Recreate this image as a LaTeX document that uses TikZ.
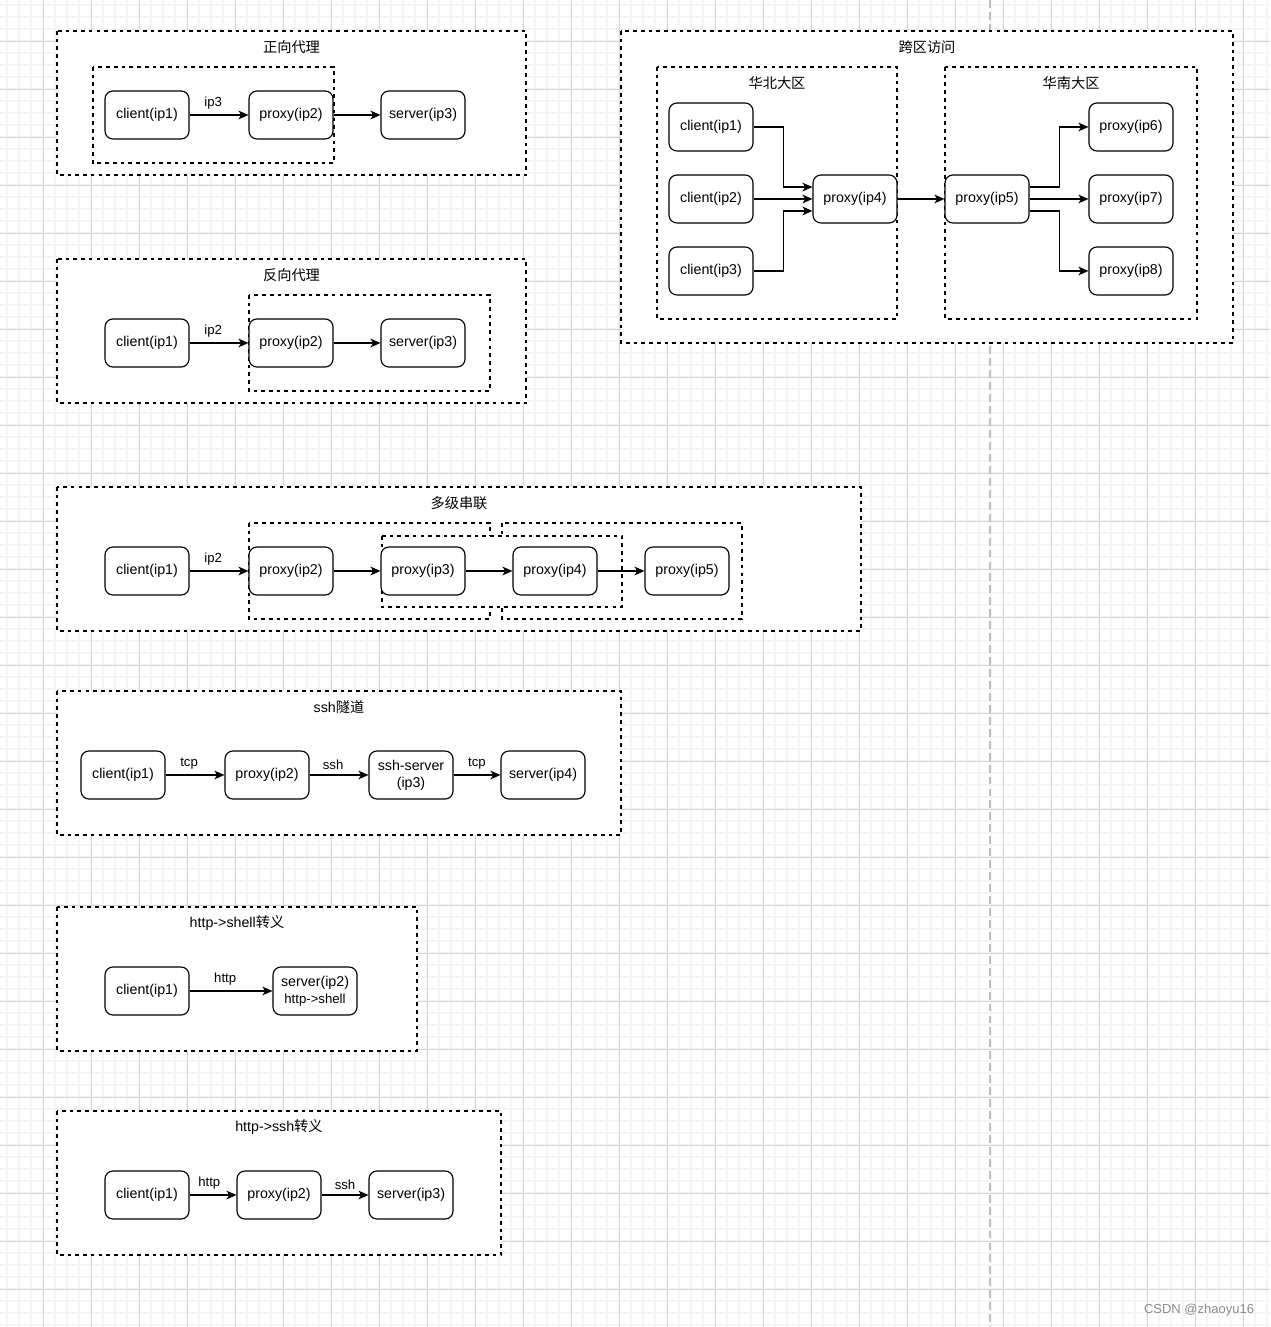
\documentclass[tikz,border=0pt]{standalone}
\usepackage{fontspec}
\setmainfont{Liberation Sans}
\newfontfamily\cjk{Noto Sans CJK SC}
\usetikzlibrary{arrows.meta, positioning}

\begin{document}
\begin{tikzpicture}[
  x=0.02cm, y=-0.02cm,
  box/.style={rectangle, draw=black, rounded corners=4.5pt, line width=0.66pt,
              minimum width=1.68cm, minimum height=0.96cm, fill=white,
              inner sep=1pt, align=center, font=\fontsize{8.1}{9.6}\selectfont},
  panel/.style={draw=black, fill=white, line width=0.6pt,
                dash pattern=on 2.1pt off 2.3pt},
  title/.style={font=\fontsize{8.1}{9.6}\selectfont},
  arrow/.style={-{Stealth[length=5.7pt, width=5pt, inset=1.6pt]}, line width=0.66pt},
  lbl/.style={above=-0.6pt, font=\fontsize{7.5}{9}\selectfont},
  gridminor/.style={draw=black!4, line width=0.7pt},
  gridmajor/.style={draw=black!17, line width=0.55pt}
]
\useasboundingbox (0,0) rectangle (1270,1327);
\fill[white] (0,0) rectangle (1270,1327);
\foreach \gx in {7,19,...,1267} \draw[gridminor] (\gx,0) -- (\gx,1327);
\foreach \gy in {5,17,...,1325} \draw[gridminor] (0,\gy) -- (1270,\gy);
\foreach \gx in {43,91,...,1267} \draw[gridmajor] (\gx,0) -- (\gx,1327);
\foreach \gy in {41,89,...,1325} \draw[gridmajor] (0,\gy) -- (1270,\gy);
\draw[black!25, line width=1.1pt, dash pattern=on 4.5pt off 2.3pt] (990,0) -- (990,1327);

% 正向代理
\draw[panel] (57,31) rectangle (526,175);
\node[title] (t1) at (291.5,47) {\cjk 正向代理};
\draw[panel] (93,67) rectangle (334,163);
\node[box] (fc) at (147,115) {client(ip1)};
\node[box] (fp) at (291,115) {proxy(ip2)};
\node[box] (fs) at (423,115) {server(ip3)};
\draw[arrow] (fc) -- node[lbl, pos=0.4] {ip3} (fp);
\draw[arrow] (fp) -- (fs);

% 反向代理
\draw[panel] (57,259) rectangle (526,403);
\node[title] (t2) at (291.5,275) {\cjk 反向代理};
\draw[panel] (249,295) rectangle (490,391);
\node[box] (rc) at (147,343) {client(ip1)};
\node[box] (rp) at (291,343) {proxy(ip2)};
\node[box] (rs) at (423,343) {server(ip3)};
\draw[arrow] (rc) -- node[lbl, pos=0.4] {ip2} (rp);
\draw[arrow] (rp) -- (rs);

% 多级串联
\draw[panel] (57,487) rectangle (861,631);
\node[title] (t3) at (459,503) {\cjk 多级串联};
\draw[panel] (249,523) rectangle (490,619);
\draw[panel] (502,523) rectangle (742,619);
\draw[panel] (382,536) rectangle (622,607);
\node[box] (mc) at (147,571) {client(ip1)};
\node[box] (m2) at (291,571) {proxy(ip2)};
\node[box] (m3) at (423,571) {proxy(ip3)};
\node[box] (m4) at (555,571) {proxy(ip4)};
\node[box] (m5) at (687,571) {proxy(ip5)};
\draw[arrow] (mc) -- node[lbl, pos=0.4] {ip2} (m2);
\draw[arrow] (m2) -- (m3);
\draw[arrow] (m3) -- (m4);
\draw[arrow] (m4) -- (m5);

% ssh隧道
\draw[panel] (57,691) rectangle (621,835);
\node[title] (t4) at (339,707) {ssh{\cjk 隧道}};
\node[box] (sc) at (123,775) {client(ip1)};
\node[box] (sp) at (267,775) {proxy(ip2)};
\node[box] (ss) at (411,775) {ssh-server\\(ip3)};
\node[box] (sv) at (543,775) {server(ip4)};
\draw[arrow] (sc) -- node[lbl, pos=0.4] {tcp} (sp);
\draw[arrow] (sp) -- node[lbl, pos=0.4] {ssh} (ss);
\draw[arrow] (ss) -- node[lbl, pos=0.5] {tcp} (sv);

% http->shell转义
\draw[panel] (57,907) rectangle (417,1051);
\node[title] (t5) at (237,923) {http->shell{\cjk 转义}};
\node[box] (hc) at (147,991) {client(ip1)};
\node[box] (hv) at (315,991) {server(ip2)\\\fontsize{7.5}{9}\selectfont http->shell};
\draw[arrow] (hc) -- node[lbl, pos=0.43] {http} (hv);

% http->ssh转义
\draw[panel] (57,1111) rectangle (501,1255);
\node[title] (t6) at (279,1127) {http->ssh{\cjk 转义}};
\node[box] (tc) at (147,1195) {client(ip1)};
\node[box] (tp) at (279,1195) {proxy(ip2)};
\node[box] (ts) at (411,1195) {server(ip3)};
\draw[arrow] (tc) -- node[lbl, pos=0.42] {http} (tp);
\draw[arrow] (tp) -- node[lbl, pos=0.5] {ssh} (ts);

% 跨区访问
\draw[panel] (621,31) rectangle (1233,343);
\node[title] (t7) at (927,47) {\cjk 跨区访问};
\draw[panel] (657,67) rectangle (897,319);
\node[title] (t8) at (777,83) {\cjk 华北大区};
\draw[panel] (945,67) rectangle (1197,319);
\node[title] (t9) at (1071,83) {\cjk 华南大区};
\node[box] (kc1) at (711,127) {client(ip1)};
\node[box] (kc2) at (711,199) {client(ip2)};
\node[box] (kc3) at (711,271) {client(ip3)};
\node[box] (kp4) at (855,199) {proxy(ip4)};
\node[box] (kp5) at (987,199) {proxy(ip5)};
\node[box] (kp6) at (1131,127) {proxy(ip6)};
\node[box] (kp7) at (1131,199) {proxy(ip7)};
\node[box] (kp8) at (1131,271) {proxy(ip8)};
\draw[arrow] (kc1.east) -- ++(30,0) |- ([yshift=6.8pt]kp4.west);
\draw[arrow] (kc2) -- (kp4);
\draw[arrow] (kc3.east) -- ++(30,0) |- ([yshift=-6.8pt]kp4.west);
\draw[arrow] (kp4) -- (kp5);
\draw[arrow] ([yshift=6.8pt]kp5.east) -- ++(30,0) |- (kp6.west);
\draw[arrow] (kp5) -- (kp7);
\draw[arrow] ([yshift=-6.8pt]kp5.east) -- ++(30,0) |- (kp8.west);

\node[font=\fontsize{7.4}{9}\selectfont, text=black!45] (wm) at (1199,1310) {CSDN @zhaoyu16};
\end{tikzpicture}
\end{document}
